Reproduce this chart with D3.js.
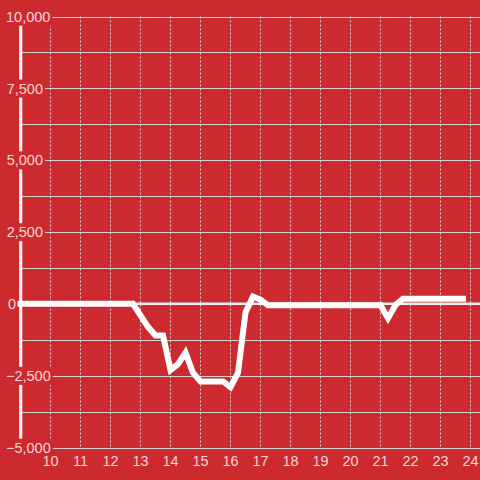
<!DOCTYPE html>
<html>
<head>
<meta charset="utf-8">
<script src="https://cdn.jsdelivr.net/npm/d3@7/dist/d3.min.js"></script>
<style>
  html, body { margin: 0; padding: 0; background: #cc2a2f; }
  svg { display: block; }
  text { font-family: "Liberation Sans", Arial, sans-serif; font-size: 14.5px; fill: #f5d6d6; }
</style>
</head>
<body>
<div id="chart"></div>
<script>
// hours of the day (decimal) and the value read at each of them
var hours  = [9, 12.75, 13, 13.25, 13.5, 13.75, 14, 14.25, 14.5, 14.75, 15, 15.75, 16, 16.25, 16.5, 16.75, 17, 17.25, 21, 21.25, 21.5, 21.75, 23.75];
var values = [0, 0, -400, -800, -1100, -1100, -2300, -2100, -1700, -2400, -2700, -2700, -2900, -2400, -300, 250, 150, -50, -50, -500, -40, 180, 180];

var xTicks = [10, 11, 12, 13, 14, 15, 16, 17, 18, 19, 20, 21, 22, 23, 24];
var yMajor = [10000, 7500, 5000, 2500, 0, -2500, -5000];
var yMinor = [8750, 6250, 3750, 1250, -1250, -3750];

var W = 480, H = 480;

var svg = d3.select("#chart").append("svg")
	.attr("width", W)
	.attr("height", H);

var x = d3.scaleLinear().domain([9, 24]).range([20.5, 470.5]);
var y = d3.scaleLinear().domain([-5000, 10000]).range([447.5, 16.5]);

var fmt = d3.format(",");

// horizontal grid (minor + major)
svg.append("g").selectAll("line")
	.data(yMinor.concat(yMajor.filter(function(d) { return d !== 0; })))
	.enter().append("line")
	.attr("x1", 20).attr("x2", W)
	.attr("y1", function(d) { return Math.round(y(d)) + 0.5; })
	.attr("y2", function(d) { return Math.round(y(d)) + 0.5; })
	.attr("stroke", "#d2d2d2")
	.attr("stroke-width", 1);

// vertical dotted grid
svg.append("g").selectAll("line")
	.data(xTicks)
	.enter().append("line")
	.attr("x1", function(d) { return x(d); })
	.attr("x2", function(d) { return x(d); })
	.attr("y1", y(10000)).attr("y2", y(-5000))
	.attr("stroke", "#d2d2d2")
	.attr("stroke-width", 1)
	.attr("stroke-dasharray", "2,2");

// zero line
svg.append("line")
	.attr("x1", 20).attr("x2", W)
	.attr("y1", y(0)).attr("y2", y(0))
	.attr("stroke", "#f2f2f2")
	.attr("stroke-width", 2.5);

// y axis line
svg.append("line")
	.attr("x1", 20.7).attr("x2", 20.7)
	.attr("y1", y(10000)).attr("y2", y(-5000))
	.attr("stroke", "#f2f2f2")
	.attr("stroke-width", 3.2);

// y labels with a background box that cuts the axis and grid
var yl = svg.append("g").selectAll("g")
	.data(yMajor)
	.enter().append("g");

yl.append("rect").attr("fill", "#cc2a2f");
yl.append("text")
	.attr("y", function(d) { return y(d); })
	.attr("dy", "0.36em")
	.text(function(d) { return fmt(d); })
	.each(function(d) {
		var t = d3.select(this);
		var w = this.getComputedTextLength();
		var left = 43 - w;
		if (d === 0) left = 16 - w;      // zero label sits left of the series start
		else if (left < 3) left = 6;     // widest label is pushed right
		t.attr("x", left);
		var b = this.getBBox();
		d3.select(this.parentNode).select("rect")
			.attr("x", b.x - 2).attr("y", b.y - 1)
			.attr("width", b.width + 4).attr("height", b.height + 2);
	});

// x labels
svg.append("g").selectAll("text")
	.data(xTicks)
	.enter().append("text")
	.attr("x", function(d) { return x(d); })
	.attr("y", 466)
	.attr("text-anchor", "middle")
	.text(function(d) { return d; });

// the series
var line = d3.line()
	.x(function(d) { return x(d[0]); })
	.y(function(d) { return y(d[1]); });

svg.append("path")
	.datum(d3.zip(hours, values))
	.attr("d", line)
	.attr("fill", "none")
	.attr("stroke", "#ffffff")
	.attr("stroke-width", 6)
	.attr("stroke-linecap", "square")
	.attr("stroke-linejoin", "miter");
</script>
</body>
</html>
